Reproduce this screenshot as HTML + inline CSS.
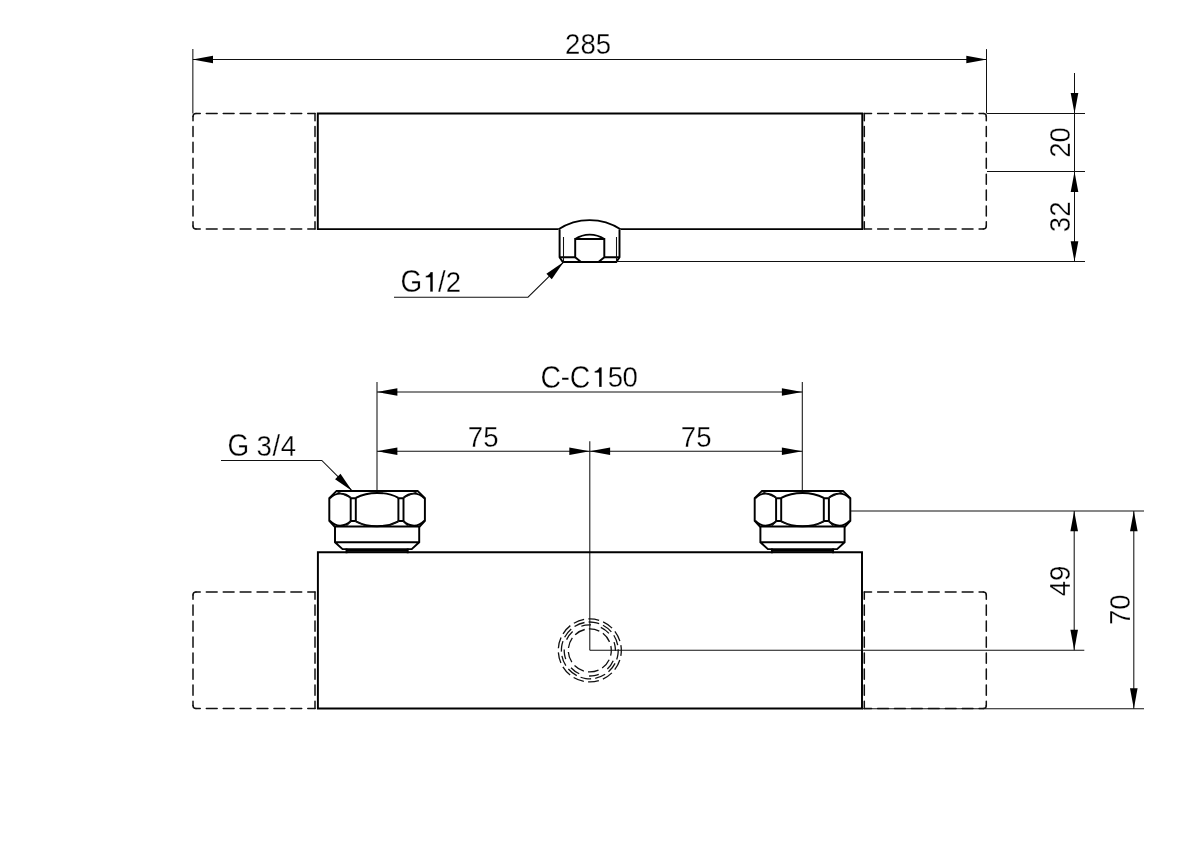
<!DOCTYPE html>
<html><head><meta charset="utf-8"><style>
html,body{margin:0;padding:0;background:#fff;overflow:hidden;}
svg{display:block;will-change:transform;}
text{font-family:"Liberation Sans",sans-serif;fill:#000;font-size:30.3px;stroke:#fff;stroke-width:0.3;}
.o{fill:none;stroke:#000;stroke-width:1.95;stroke-linejoin:miter;stroke-linecap:butt;}
.t{fill:none;stroke:#111;stroke-width:1.05;}
.d{fill:none;stroke:#111;stroke-width:1.5;stroke-linecap:round;}
.a{fill:#000;stroke:none;}
</style></head><body>
<svg width="1191" height="842" viewBox="0 0 1191 842">
<path class="t" d="M192.85 49.1 L192.85 113.4"/>
<path class="t" d="M986.5 49.1 L986.5 113.4"/>
<path class="t" d="M192.85 59.5 L986.45 59.5"/>
<path class="a" d="M192.60 59.50 L213.00 55.70 L213.00 63.30 Z"/>
<path class="a" d="M986.70 59.50 L966.30 63.30 L966.30 55.70 Z"/>
<text transform="translate(588.1 54.0) scale(0.91 1)" text-anchor="middle">285</text>
<path class="d" d="M196.0 113.4 L315.0 113.4" stroke-dasharray="4.25 6.07 10.84 6.07 10.84 6.07 10.84 6.07 10.84 6.07 10.84 6.07 10.84 6.07 7.25"/>
<path class="d" d="M196.0 229.1 L315.0 229.1" stroke-dasharray="4.25 6.07 10.84 6.07 10.84 6.07 10.84 6.07 10.84 6.07 10.84 6.07 10.84 6.07 7.25"/>
<path class="d" d="M193.0 116.4 L193.0 226.1" stroke-dasharray="4.25 5.79 10.11 5.79 10.11 5.79 10.11 5.79 10.11 5.79 10.11 5.79 10.11 5.79 4.25"/>
<path class="d" d="M315.0 113.4 L315.0 229.1" stroke-dasharray="7.25 5.79 10.11 5.79 10.11 5.79 10.11 5.79 10.11 5.79 10.11 5.79 10.11 5.79 7.25"/>
<path class="d" d="M193.0 116.4 Q193.0 113.4 196.0 113.4 M193.0 226.1 Q193.0 229.1 196.0 229.1"/>
<path class="d" d="M864.3 113.4 L983.3 113.4" stroke-dasharray="7.25 6.07 10.84 6.07 10.84 6.07 10.84 6.07 10.84 6.07 10.84 6.07 10.84 6.07 4.25"/>
<path class="d" d="M864.3 229.1 L983.3 229.1" stroke-dasharray="7.25 6.07 10.84 6.07 10.84 6.07 10.84 6.07 10.84 6.07 10.84 6.07 10.84 6.07 4.25"/>
<path class="d" d="M986.3 116.4 L986.3 226.1" stroke-dasharray="4.25 5.79 10.11 5.79 10.11 5.79 10.11 5.79 10.11 5.79 10.11 5.79 10.11 5.79 4.25"/>
<path class="d" d="M864.3 113.4 L864.3 229.1" stroke-dasharray="7.25 5.79 10.11 5.79 10.11 5.79 10.11 5.79 10.11 5.79 10.11 5.79 10.11 5.79 7.25"/>
<path class="d" d="M986.3 116.4 Q986.3 113.4 983.3 113.4 M986.3 226.1 Q986.3 229.1 983.3 229.1"/>
<path class="o" d="M558.6 229.1 H317.8 V113.4 H862.3 V229.1 H620.5"/>
<path class="o" d="M558.6 229.3 C568 223 578 220.1 589.6 220.1 C601 220.1 611 223 620.5 229.3"/>
<path class="o" d="M559.6 229.5 V257.3 L562.8 262 H616.3 L619.5 257.3 V229.5"/>
<path class="o" d="M559.6 257.3 H575.2 M604.3 257.3 H619.5"/>
<path class="t" d="M563.5 237 V262 M616.5 237 V262"/>
<path class="o" d="M575.2 257.3 V239 H604.3 V257.3 L598.5 262 M575.2 257.3 L581 262"/>
<path class="o" d="M575.2 239 C580 235.8 585 234.6 589.7 234.6 C594.5 234.6 599.5 235.8 604.3 239"/>
<text transform="translate(0 292.2) scale(0.905 1)" x="442.63" style="font-size:30.8px">G</text>
<text transform="translate(0 292.2) scale(0.91 1)" x="481.41" style="font-size:30.3px">/</text>
<text transform="translate(0 292.2) scale(0.91 1)" x="489.77" style="font-size:30.3px">2</text>
<path d="M430.10 291.80 V277.50 H425.70 V275.70 C427.70 275.60 429.50 274.80 430.40 272.00 H432.90 V291.80 Z" fill="#000" stroke="#fff" stroke-width="0.35"/>
<path class="t" d="M394 297.2 H528 L563.4 262.3"/>
<path class="a" d="M563.60 262.10 L551.74 279.13 L546.41 273.72 Z"/>
<path class="t" d="M987 113.5 L1085 113.5"/>
<path class="t" d="M987 171.5 L1085 171.5"/>
<path class="t" d="M616 261.5 L1085 261.5"/>
<path class="t" d="M1074.5 73 L1074.5 261.5"/>
<path class="a" d="M1074.50 113.40 L1070.70 93.00 L1078.30 93.00 Z"/>
<path class="a" d="M1074.50 171.50 L1078.30 191.90 L1070.70 191.90 Z"/>
<path class="a" d="M1074.50 261.60 L1070.70 241.20 L1078.30 241.20 Z"/>
<text transform="translate(1070.2 142.4) rotate(-90) scale(0.91 1)" text-anchor="middle">20</text>
<text transform="translate(1070.2 216.8) rotate(-90) scale(0.91 1)" text-anchor="middle">32</text>
<path class="t" d="M377.0 381.9 L377.0 491"/>
<path class="t" d="M802.3 381.9 L802.3 491"/>
<path class="t" d="M377.0 392.0 L802.3 392.0"/>
<path class="a" d="M377.00 392.00 L397.40 388.20 L397.40 395.80 Z"/>
<path class="a" d="M802.30 392.00 L781.90 395.80 L781.90 388.20 Z"/>
<text transform="translate(0 387.8) scale(0.9 1)" x="600.60" style="font-size:31.6px">C</text>
<text transform="translate(0 387.8) scale(0.9 1)" x="632.93" style="font-size:31.6px">C</text>
<text transform="translate(0 387.3) scale(0.91 1)" x="616.10" style="font-size:30.3px">-</text>
<text transform="translate(0 387.3) scale(0.91 1)" x="667.89" style="font-size:30.3px">5</text>
<text transform="translate(0 387.3) scale(0.91 1)" x="684.07" style="font-size:30.3px">0</text>
<path d="M599.00 387.10 V372.80 H594.60 V371.00 C596.60 370.90 598.40 370.10 599.30 367.30 H601.80 V387.10 Z" fill="#000" stroke="#fff" stroke-width="0.35"/>
<path class="t" d="M377.0 451.3 L802.3 451.3"/>
<path class="a" d="M377.00 451.30 L397.40 447.50 L397.40 455.10 Z"/>
<path class="a" d="M802.30 451.30 L781.90 455.10 L781.90 447.50 Z"/>
<path class="a" d="M589.70 451.30 L569.30 455.10 L569.30 447.50 Z"/>
<path class="a" d="M589.70 451.30 L610.10 447.50 L610.10 455.10 Z"/>
<path class="t" d="M589.8 441.3 L589.8 650.3"/>
<text transform="translate(483.2 446.9) scale(0.91 1)" text-anchor="middle">75</text>
<text transform="translate(696.2 446.9) scale(0.91 1)" text-anchor="middle">75</text>
<text transform="translate(0 455.7) scale(0.905 1)" x="251.47" style="font-size:30.8px">G</text>
<text transform="translate(0 455.7) scale(0.91 1)" x="281.90" style="font-size:30.3px">3</text>
<text transform="translate(0 455.7) scale(0.91 1)" x="299.54" style="font-size:30.3px">/</text>
<text transform="translate(0 455.7) scale(0.91 1)" x="308.62" style="font-size:30.3px">4</text>
<path class="t" d="M221 460.4 H321.8 L351.5 490.2"/>
<path class="a" d="M352.20 490.90 L335.09 479.16 L340.46 473.79 Z"/>
<path class="d" d="M196.0 592.0 L315.0 592.0" stroke-dasharray="4.25 6.07 10.84 6.07 10.84 6.07 10.84 6.07 10.84 6.07 10.84 6.07 10.84 6.07 7.25"/>
<path class="d" d="M196.0 708.4 L315.0 708.4" stroke-dasharray="4.25 6.07 10.84 6.07 10.84 6.07 10.84 6.07 10.84 6.07 10.84 6.07 10.84 6.07 7.25"/>
<path class="d" d="M193.0 595.0 L193.0 705.4" stroke-dasharray="4.25 5.82 10.19 5.82 10.19 5.82 10.19 5.82 10.19 5.82 10.19 5.82 10.19 5.82 4.25"/>
<path class="d" d="M315.0 592.0 L315.0 708.4" stroke-dasharray="7.25 5.82 10.19 5.82 10.19 5.82 10.19 5.82 10.19 5.82 10.19 5.82 10.19 5.82 7.25"/>
<path class="d" d="M193.0 595.0 Q193.0 592.0 196.0 592.0 M193.0 705.4 Q193.0 708.4 196.0 708.4"/>
<path class="d" d="M864.3 592.0 L983.3 592.0" stroke-dasharray="7.25 6.07 10.84 6.07 10.84 6.07 10.84 6.07 10.84 6.07 10.84 6.07 10.84 6.07 4.25"/>
<path class="d" d="M864.3 708.4 L983.3 708.4" stroke-dasharray="7.25 6.07 10.84 6.07 10.84 6.07 10.84 6.07 10.84 6.07 10.84 6.07 10.84 6.07 4.25"/>
<path class="d" d="M986.3 595.0 L986.3 705.4" stroke-dasharray="4.25 5.82 10.19 5.82 10.19 5.82 10.19 5.82 10.19 5.82 10.19 5.82 10.19 5.82 4.25"/>
<path class="d" d="M864.3 592.0 L864.3 708.4" stroke-dasharray="7.25 5.82 10.19 5.82 10.19 5.82 10.19 5.82 10.19 5.82 10.19 5.82 10.19 5.82 7.25"/>
<path class="d" d="M986.3 595.0 Q986.3 592.0 983.3 592.0 M986.3 705.4 Q986.3 708.4 983.3 708.4"/>
<path class="o" d="M317.9 552.3 H862.0 V708.4 H317.9 Z"/>
<path class="o" d="M336.60 490.9 H417.60 L424.90 498.1 V520.8 L419.70 526.5 H334.50 L329.30 520.8 V498.1 Z"/>
<path class="o" d="M350.70 497.8 V521.3 M355.80 497.8 V521.3 M398.40 497.8 V521.3 M403.50 497.8 V521.3 M350.70 521 H355.80 M398.40 521 H403.50"/>
<path class="o" d="M350.80 498.3 H355.90 M398.30 498.3 H403.40"/>
<path class="o" d="M329.80 498.3 C333.10 495 337.10 493.6 340.10 493.6 C344.10 493.6 348.10 495.3 350.70 497.8 M355.80 497.8 C362.10 494.5 370.10 492.9 377.10 492.9 C384.10 492.9 392.10 494.5 398.40 497.8 M403.50 497.8 C406.10 495.3 410.10 493.6 414.10 493.6 C417.10 493.6 421.10 495 424.40 498.3"/>
<path class="o" d="M329.80 520.6 C333.10 524 337.10 525.6 340.10 525.6 C344.10 525.6 348.10 523.8 350.70 521.3 M355.80 521.3 C362.10 524.6 370.10 526.3 377.10 526.3 C384.10 526.3 392.10 524.6 398.40 521.3 M403.50 521.3 C406.10 523.8 410.10 525.6 414.10 525.6 C417.10 525.6 421.10 524 424.40 520.6"/>
<path class="t" d="M350.70 521.3 L346.50 526 M355.80 521.3 L365.70 526 M398.40 521.3 L388.50 526 M403.50 521.3 L407.70 526 M336.60 491.5 L350.70 497.8 M417.60 491.5 L403.50 497.8"/>
<path class="o" d="M335.00 526.4 V542.3 L342.50 549.1 H411.70 L419.20 542.3 V526.4 M335.00 542.3 H419.20"/>
<path class="o" d="M346.50 550.7 H407.70 M346.50 548.6 V553.3 M407.70 548.6 V553.3"/>
<path class="o" d="M762.00 490.9 H843.00 L850.30 498.1 V520.8 L845.10 526.5 H759.90 L754.70 520.8 V498.1 Z"/>
<path class="o" d="M776.10 497.8 V521.3 M781.20 497.8 V521.3 M823.80 497.8 V521.3 M828.90 497.8 V521.3 M776.10 521 H781.20 M823.80 521 H828.90"/>
<path class="o" d="M776.20 498.3 H781.30 M823.70 498.3 H828.80"/>
<path class="o" d="M755.20 498.3 C758.50 495 762.50 493.6 765.50 493.6 C769.50 493.6 773.50 495.3 776.10 497.8 M781.20 497.8 C787.50 494.5 795.50 492.9 802.50 492.9 C809.50 492.9 817.50 494.5 823.80 497.8 M828.90 497.8 C831.50 495.3 835.50 493.6 839.50 493.6 C842.50 493.6 846.50 495 849.80 498.3"/>
<path class="o" d="M755.20 520.6 C758.50 524 762.50 525.6 765.50 525.6 C769.50 525.6 773.50 523.8 776.10 521.3 M781.20 521.3 C787.50 524.6 795.50 526.3 802.50 526.3 C809.50 526.3 817.50 524.6 823.80 521.3 M828.90 521.3 C831.50 523.8 835.50 525.6 839.50 525.6 C842.50 525.6 846.50 524 849.80 520.6"/>
<path class="t" d="M776.10 521.3 L771.90 526 M781.20 521.3 L791.10 526 M823.80 521.3 L813.90 526 M828.90 521.3 L833.10 526 M762.00 491.5 L776.10 497.8 M843.00 491.5 L828.90 497.8"/>
<path class="o" d="M760.40 526.4 V542.3 L767.90 549.1 H837.10 L844.60 542.3 V526.4 M760.40 542.3 H844.60"/>
<path class="o" d="M771.90 550.7 H833.10 M771.90 548.6 V553.3 M833.10 548.6 V553.3"/>
<circle cx="589.8" cy="650.4" r="31.5" fill="none" stroke="#111" stroke-width="1.3" stroke-dasharray="10.96 4.26" stroke-dashoffset="5.48" transform="rotate(0 589.8 650.4)"/>
<circle cx="589.8" cy="650.4" r="28.4" fill="none" stroke="#111" stroke-width="1.3" stroke-dasharray="10.71 4.16" stroke-dashoffset="5.35" transform="rotate(8 589.8 650.4)"/>
<circle cx="589.8" cy="650.4" r="25.6" fill="none" stroke="#111" stroke-width="1.3" stroke-dasharray="10.05 10.05" stroke-dashoffset="5.03" transform="rotate(-10 589.8 650.4)"/>
<circle cx="589.8" cy="650.4" r="21.5" fill="none" stroke="#111" stroke-width="1.3" stroke-dasharray="10.81 4.20" stroke-dashoffset="5.40" transform="rotate(0 589.8 650.4)"/>
<path class="t" d="M851 510.9 L1144 510.9"/>
<path class="t" d="M589.8 650.2 L1084.3 650.2"/>
<path class="t" d="M862.2 708.7 L1144 708.7"/>
<path class="t" d="M1074.2 510.9 L1074.2 650.2"/>
<path class="t" d="M1133.8 510.9 L1133.8 708.7"/>
<path class="a" d="M1074.20 510.90 L1078.00 531.30 L1070.40 531.30 Z"/>
<path class="a" d="M1074.20 650.20 L1070.40 629.80 L1078.00 629.80 Z"/>
<path class="a" d="M1133.80 510.90 L1137.60 531.30 L1130.00 531.30 Z"/>
<path class="a" d="M1133.80 708.70 L1130.00 688.30 L1137.60 688.30 Z"/>
<text transform="translate(1069.5 580.9) rotate(-90) scale(0.91 1)" text-anchor="middle">49</text>
<text transform="translate(1129.8 609.75) rotate(-90) scale(0.91 1)" text-anchor="middle">70</text>
</svg>
</body></html>
